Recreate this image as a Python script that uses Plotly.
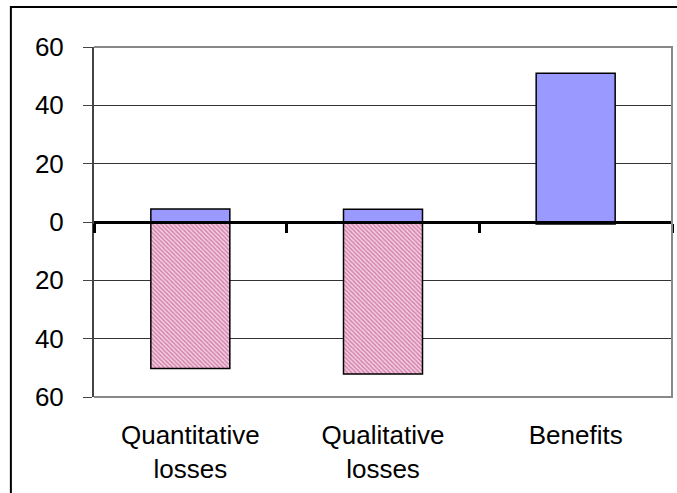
import plotly.graph_objects as go

categories = ["Quantitative<br>losses", "Qualitative<br>losses", "Benefits"]
positive_values = [4.5, 4.4, 51.0]
negative_values = [-50.2, -52.1, -0.7]
y_tick_values = [-60, -40, -20, 0, 20, 40, 60]
y_tick_labels = [str(abs(v)) for v in y_tick_values]

FONT = "Liberation Sans, Arial, sans-serif"

fig = go.Figure()

fig.add_trace(go.Bar(
    x=categories, y=positive_values, width=0.41,
    marker=dict(color="#9999ff", line=dict(color="black", width=1.5)),
    showlegend=False, hoverinfo="skip",
))
fig.add_trace(go.Bar(
    x=categories, y=negative_values, width=0.41,
    marker=dict(
        color="#b8387a",
        line=dict(color="black", width=1.5),
        pattern=dict(shape="\\", fgcolor="#b8387a", bgcolor="#f4d4e4",
                     size=3, solidity=0.55),
    ),
    showlegend=False, hoverinfo="skip",
))
# invisible trace carrying the bottom category labels axis
fig.add_trace(go.Scatter(
    x=categories, y=[None] * len(categories), xaxis="x2", yaxis="y",
    mode="markers", showlegend=False, hoverinfo="skip",
))

fig.update_layout(
    width=677, height=493,
    margin=dict(l=94, r=5, t=47, b=96, autoexpand=False),
    paper_bgcolor="white", plot_bgcolor="white",
    barmode="relative", hovermode=False,
    font=dict(family=FONT, size=26, color="black"),
    xaxis=dict(
        type="category", categoryorder="array", categoryarray=categories,
        range=[-0.5, 2.5],
        anchor="free", position=0.5, automargin=False,
        showline=True, linecolor="black", linewidth=3,
        ticks="outside", ticklen=9, tickwidth=3, tickcolor="black",
        tickson="boundaries", showticklabels=False, showgrid=False,
        zeroline=False,
    ),
    xaxis2=dict(
        type="category", categoryorder="array", categoryarray=categories,
        range=[-0.5, 2.5], overlaying="x", anchor="y", side="bottom",
        showline=False, ticks="", showticklabels=True, showgrid=False,
        zeroline=False, ticklabelstandoff=20, automargin=False,
        tickfont=dict(family=FONT, size=26, color="black"),
    ),
    yaxis=dict(
        range=[-60, 60], tickvals=y_tick_values, ticktext=y_tick_labels,
        showgrid=True, gridcolor="#333333", gridwidth=1,
        showline=True, linecolor="#444444", linewidth=2,
        ticks="outside", ticklen=9, tickwidth=1, tickcolor="#444444",
        zeroline=False, ticklabelstandoff=14, automargin=False,
        tickfont=dict(family=FONT, size=26, color="black"),
    ),
    shapes=[
        dict(type="path", xref="paper", yref="paper",
             path="M 0,1 L 1,1 L 1,0 L 0,0",
             line=dict(color="#888888", width=2), layer="above"),
        dict(type="path", xref="paper", yref="paper",
             path="M -0.1438,-0.4 L -0.1438,1.114 L 1.2,1.114",
             line=dict(color="black", width=2), layer="above"),
    ],
)

fig.write_html(
    "out.html",
    config={"displayModeBar": False, "staticPlot": True},
    post_script="document.body.style.margin='0';document.body.style.overflow='hidden';",
)
